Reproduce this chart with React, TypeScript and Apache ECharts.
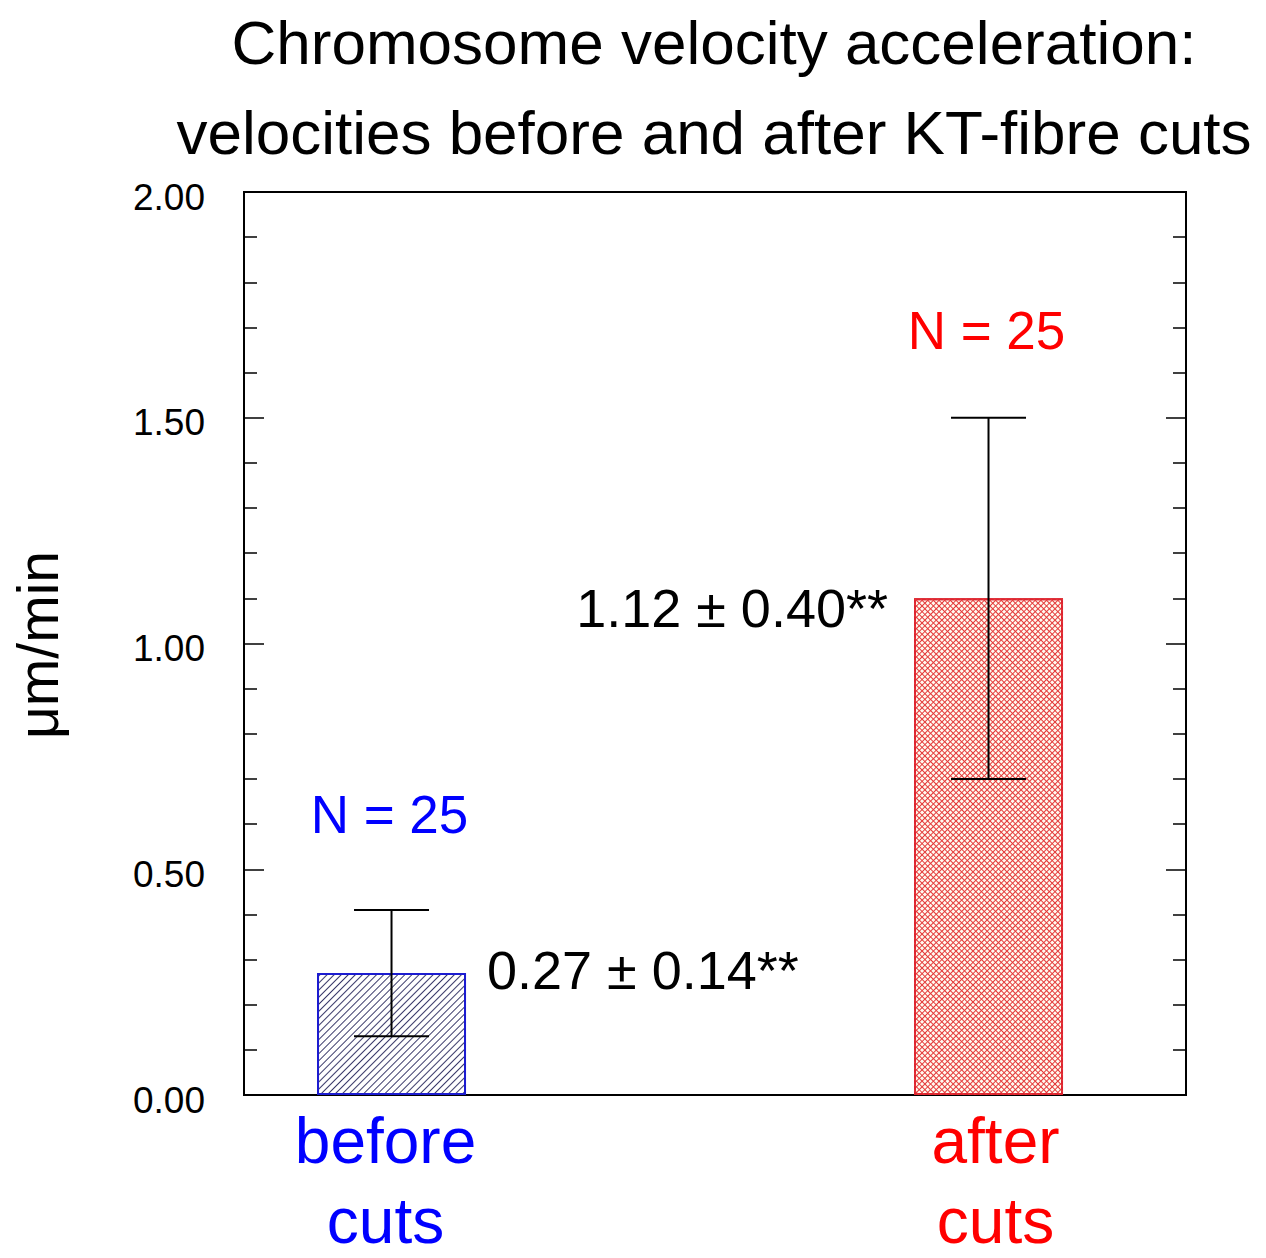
import React, { useEffect, useRef } from "react";
import * as echarts from "echarts";

// ---- data ----
const categories = ["before\ncuts", "after\ncuts"];
const means = [0.27, 1.1];
const errLow = [0.13, 0.7];
const errHigh = [0.41, 1.5];
const valueLabels = ["0.27 ± 0.14**", "1.12 ± 0.40**"];
const nLabels = ["N = 25", "N = 25"];
const yMin = 0;
const yMax = 2;
const yInterval = 0.5;

// ---- styles / layout ----
const FONT = "'Liberation Sans', Arial, Helvetica, sans-serif";
const catColors = ["#0000ff", "#ff0000"];
const barBorders = ["#1c1cd0", "#dd2430"];
const barFills = ["#ffffff", "#fffaf0"];
const labelSide = ["right", "left"];
const labelDy = [-3, 10];
const nDy = [-95, -87];
const catLabelDx = [-6, 7];
const X_MIN = -0.2471;
const X_MAX = 1.3308;

const hatch = (color: string, rot: number, thick: number, gap: number) => ({
  symbol: "rect",
  symbolSize: 1,
  dashArrayX: [1, 0],
  dashArrayY: [thick, gap],
  rotation: rot,
  color,
});

const shiftPad = (dx: number) => [0, dx < 0 ? -dx * 2 : 0, 0, dx > 0 ? dx * 2 : 0];

export default function App() {
  const ref = useRef<HTMLDivElement>(null);
  useEffect(() => {
    document.body.style.margin = "0";
    const chart = echarts.init(ref.current!, null, { renderer: "svg" });
    const BAR_W = 149;
    const CAP = 37.5;
    const tickCommon = {
      axisLine: { show: true, onZero: false, lineStyle: { color: "#000", width: 2 } },
      axisTick: { show: true, inside: true, length: 20, lineStyle: { color: "#000", width: 1.5 } },
      minorTick: { show: true, splitNumber: 5, length: 13, lineStyle: { color: "#000", width: 1.5 } },
      splitLine: { show: false },
    };

    const option: any = {
      animation: false,
      backgroundColor: "#ffffff",
      title: {
        text: "Chromosome velocity acceleration:\nvelocities before and after KT-fibre cuts",
        left: 714,
        textAlign: "center",
        top: -3,
        padding: 0,
        textStyle: {
          fontSize: 62,
          lineHeight: 90,
          fontWeight: "normal",
          color: "#000",
          fontFamily: FONT,
        },
      },
      graphic: [
        {
          type: "text",
          x: 38,
          y: 645,
          rotation: Math.PI / 2,
          style: {
            text: "μm/min",
            fontSize: 57,
            fontFamily: FONT,
            fill: "#000",
            align: "center",
            verticalAlign: "middle",
          },
        },
      ],
      grid: {
        left: 244,
        top: 192,
        width: 942,
        height: 903,
        containLabel: false,
        outerBoundsMode: "none",
        show: true,
        borderColor: "#000",
        borderWidth: 2,
        backgroundColor: "transparent",
      },
      xAxis: {
        type: "value",
        min: X_MIN,
        max: X_MAX,
        axisLine: { show: false, onZero: false },
        axisTick: { show: false },
        splitLine: { show: false },
        axisLabel: {
          customValues: categories.map((_c, i) => i),
          formatter: (v: number) => {
            const i = Math.round(v);
            const s = categories[i];
            if (s === undefined) return "";
            return s
              .split("\n")
              .map((l) => `{c${i}|${l}}`)
              .join("\n");
          },
          margin: 6,
          rich: {
            c0: {
              fontSize: 64,
              lineHeight: 80,
              fontFamily: FONT,
              color: catColors[0],
              padding: shiftPad(catLabelDx[0]),
            },
            c1: {
              fontSize: 64,
              lineHeight: 80,
              fontFamily: FONT,
              color: catColors[1],
              padding: shiftPad(catLabelDx[1]),
            },
          },
        },
      },
      yAxis: [
        {
          type: "value",
          position: "left",
          min: yMin,
          max: yMax,
          interval: yInterval,
          ...tickCommon,
          axisLabel: {
            formatter: (v: number) => v.toFixed(2),
            fontSize: 37,
            margin: 39,
            verticalAlign: "top",
            lineHeight: 10,
            color: "#000",
            fontFamily: FONT,
          },
        },
        {
          type: "value",
          position: "right",
          min: yMin,
          max: yMax,
          interval: yInterval,
          ...tickCommon,
          axisLabel: { show: false },
        },
      ],
      series: [
        {
          type: "bar",
          barWidth: BAR_W,
          data: means.map((m, i) => ({
            value: [i, m],
            itemStyle: {
              color: barFills[i],
              borderColor: barBorders[i],
              borderWidth: 2,
              decal:
                i === 0
                  ? hatch("#3a3a6a", -Math.PI / 4, 1, 3.3)
                  : hatch("#e43a3a", -Math.PI / 4, 0.9, 2.9),
            },
          })),
        },
        {
          type: "bar",
          barWidth: BAR_W,
          barGap: "-100%",
          z: 3,
          data: means
            .map((m, i) => ({ i, m }))
            .filter((d) => d.i === 1)
            .map((d) => ({
              value: [d.i, d.m],
              itemStyle: {
                color: "rgba(0,0,0,0)",
                borderWidth: 0,
                decal: hatch("#e43a3a", Math.PI / 4, 0.9, 2.9),
              },
            })),
        },
        {
          type: "custom",
          z: 5,
          data: categories.map((_c, i) => [i, means[i], errLow[i], errHigh[i]]),
          renderItem: (params: any, api: any) => {
            const i = params.dataIndex;
            const c = api.value(0);
            const x = api.coord([c, 0])[0];
            const yLo = api.coord([c, api.value(2)])[1];
            const yHi = api.coord([c, api.value(3)])[1];
            const yMean = api.coord([c, api.value(1)])[1];
            const ls = { stroke: "#000", lineWidth: 2 };
            const right = labelSide[i] === "right";
            return {
              type: "group",
              children: [
                { type: "line", shape: { x1: x, y1: yLo, x2: x, y2: yHi }, style: ls },
                { type: "line", shape: { x1: x - CAP, y1: yLo, x2: x + CAP, y2: yLo }, style: ls },
                { type: "line", shape: { x1: x - CAP, y1: yHi, x2: x + CAP, y2: yHi }, style: ls },
                {
                  type: "text",
                  style: {
                    text: nLabels[i],
                    x: x - 2,
                    y: yHi + nDy[i],
                    fill: catColors[i],
                    fontSize: 53,
                    fontFamily: FONT,
                    align: "center",
                    verticalAlign: "middle",
                  },
                },
                {
                  type: "text",
                  style: {
                    text: valueLabels[i],
                    x: right ? x + BAR_W / 2 + 21 : x - BAR_W / 2 - 26,
                    y: yMean + labelDy[i],
                    fill: "#000",
                    fontSize: 54,
                    fontFamily: FONT,
                    align: right ? "left" : "right",
                    verticalAlign: "middle",
                  },
                },
              ],
            };
          },
        },
      ],
    };
    chart.setOption(option);
    return () => chart.dispose();
  }, []);
  return <div ref={ref} style={{ width: 1266, height: 1258 }} />;
}
